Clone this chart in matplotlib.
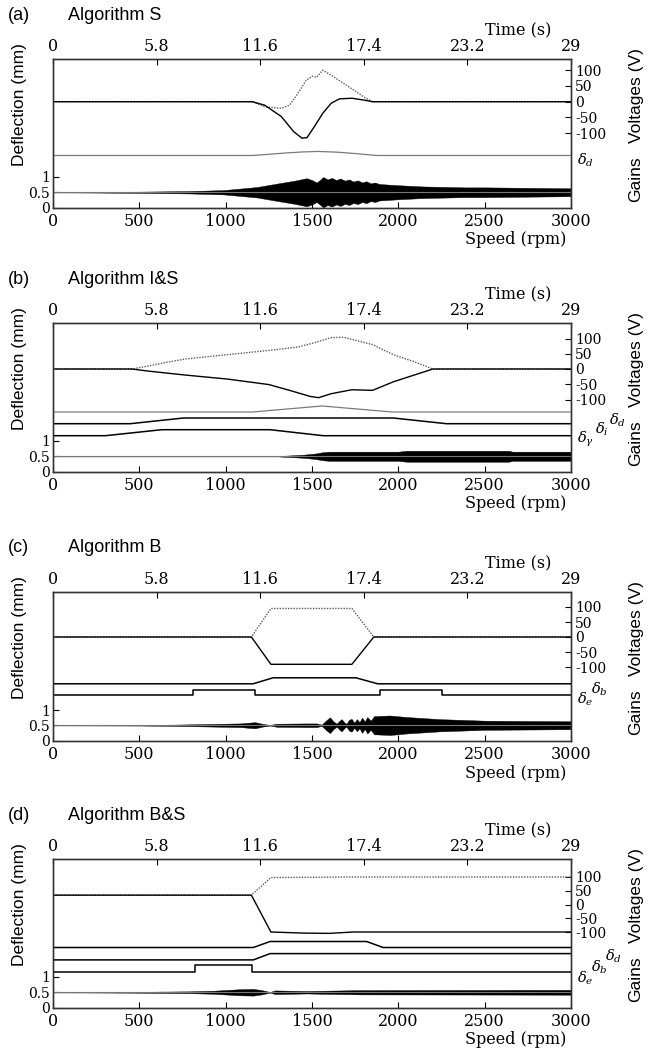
import numpy as np
import matplotlib.pyplot as plt
from matplotlib import transforms

W, H = 651, 1049
SERIF = 'DejaVu Serif'
SANS = 'Liberation Sans'
plt.rcParams['mathtext.fontset'] = 'dejavuserif'

speed_ticks = [0, 500, 1000, 1500, 2000, 2500, 3000]
time_ticks = [0, 5.8, 11.6, 17.4, 23.2, 29]
time_labels = ['0', '5.8', '11.6', '17.4', '23.2', '29']
volt_ticks = [-100, -50, 0, 50, 100]
volt_labels = ['-100', '-50', '0', '50', '100']
gain_ticks = [0, 0.5, 1]
gain_labels = ['0', '0.5', '1']

# (a) Algorithm S
a_vup_rpm = [0, 1154, 1226, 1322, 1370, 1418, 1466, 1502, 1526, 1562, 1611, 1683, 1755, 1803, 1851, 3000]
a_vup = [0, 0, -16, -21, -11, 26, 68, 81, 77, 100, 84, 58, 32, 14, 0, 0]
a_vlo_rpm = [0, 1154, 1226, 1322, 1394, 1442, 1471, 1514, 1562, 1611, 1659, 1731, 1803, 1851, 3000]
a_vlo = [0, 0, -11, -47, -95, -116, -114, -79, -37, -5, 9, 11, 5, 0, 0]
a_dd_rpm = [0, 1154, 1250, 1350, 1450, 1538, 1650, 1750, 1875, 3000]
a_dd = [0, 0, 0.08, 0.17, 0.24, 0.27, 0.22, 0.13, 0, 0]
a_gain_rpm = [0, 235, 505, 794, 987, 1180, 1315, 1400, 1469, 1500, 1527, 1545, 1565, 1590, 1615,
              1640, 1665, 1690, 1715, 1740, 1765, 1790, 1815, 1840, 1865, 1890, 2000, 2144, 2385, 2500, 3000]
a_gain = [0.005, 0.01, 0.02, 0.04, 0.07, 0.17, 0.3, 0.38, 0.46, 0.4, 0.32, 0.4, 0.5, 0.42, 0.47,
          0.4, 0.45, 0.38, 0.42, 0.35, 0.39, 0.32, 0.36, 0.29, 0.32, 0.27, 0.23, 0.19, 0.16, 0.16, 0.13]

# (b) Algorithm I&S
b_vup_rpm = [0, 457, 553, 649, 769, 1010, 1250, 1418, 1514, 1611, 1683, 1851, 1971, 2091, 2200, 3000]
b_vup = [0, 0, 10, 21, 33, 47, 61, 72, 86, 103, 104, 80, 47, 24, 0, 0]
b_vlo_rpm = [0, 457, 553, 769, 1010, 1250, 1370, 1490, 1538, 1611, 1731, 1851, 1971, 2091, 2200, 3000]
b_vlo = [0, 0, -7, -20, -33, -51, -70, -90, -94, -81, -68, -70, -42, -20, 0, 0]
b_dd_rpm = [0, 1154, 1559, 1965, 3000]
b_dd = [0, 0, 0.4, 0, 0]
b_di_rpm = [0, 447, 756, 1970, 2279, 3000]
b_di = [0, 0, 0.38, 0.38, 0, 0]
b_dg_rpm = [0, 303, 630, 1257, 1565, 3000]
b_dg = [0, 0, 0.4, 0.4, 0, 0]
b_gain_rpm = [0, 1300, 1350, 1450, 1520, 1560, 1600, 2000, 2050, 2640, 2660, 3000]
b_gain = [0.005, 0.005, 0.02, 0.05, 0.09, 0.13, 0.15, 0.15, 0.18, 0.18, 0.15, 0.15]

# (c) Algorithm B
c_vup_rpm = [0, 1149, 1262, 1731, 1858, 3000]
c_vup = [0, 0, 95, 95, 0, 0]
c_vlo_rpm = [0, 1149, 1262, 1731, 1858, 3000]
c_vlo = [0, 0, -91, -91, 0, 0]
c_db_rpm = [0, 1159, 1274, 1755, 1880, 3000]
c_db = [0, 0, 0.4, 0.4, 0, 0]
c_de_rpm = [0, 813, 813, 1172, 1172, 1895, 1895, 2254, 2254, 3000]
c_de = [0, 0, 0.33, 0.33, 0, 0, 0.33, 0.33, 0, 0]
c_gain_rpm = [0, 505, 698, 890, 1083, 1170, 1218, 1257, 1296, 1469, 1527, 1556, 1580, 1604, 1625,
              1643, 1660, 1671, 1690, 1700, 1715, 1729, 1745, 1760, 1775, 1790, 1805, 1820, 1840,
              1860, 1874, 1951, 2047, 2240, 2500, 3000]
c_gain = [0.005, 0.01, 0.02, 0.04, 0.06, 0.1, 0.04, 0.01, 0.05, 0.06, 0.06, 0.02, 0.15, 0.26, 0.12,
          0.05, 0.15, 0.2, 0.08, 0.05, 0.18, 0.21, 0.08, 0.2, 0.1, 0.25, 0.12, 0.27, 0.15,
          0.3, 0.3, 0.32, 0.27, 0.2, 0.15, 0.13]

# (d) Algorithm B&S
d_vup_rpm = [0, 1149, 1262, 1500, 1700, 3000]
d_vup = [34, 34, 98, 99, 100, 100]
d_vlo_rpm = [0, 1149, 1262, 1450, 1600, 1740, 3000]
d_vlo = [34, 34, -100, -104, -105, -100, -100]
d_dd_rpm = [0, 1160, 1257, 1816, 1912, 3000]
d_dd = [0, 0, 0.4, 0.4, 0, 0]
d_db_rpm = [0, 1160, 1257, 3000]
d_db = [0, 0, 0.42, 0.42]
d_de_rpm = [0, 823, 823, 1155, 1155, 3000]
d_de = [0, 0, 0.44, 0.44, 0, 0]
d_gain_rpm = [0, 300, 505, 794, 929, 1083, 1160, 1209, 1257, 1286, 1469, 1565, 1778, 3000]
d_gain = [0.005, 0.01, 0.015, 0.03, 0.05, 0.1, 0.11, 0.07, 0.01, 0.06, 0.04, 0.05, 0.07, 0.08]

# layout (pixels)
BOX_L, BOX_W, BOX_H = 53, 518, 148.5
GAIN_PX = 30.5     # px per gain unit
DEFL_PX = 15.0     # px per mm

panels = [
    dict(tag='(a)', title='Algorithm S', top=59, vzero=42.7, vscale=31.5,
         vup=(a_vup_rpm, a_vup), vlo=(a_vlo_rpm, a_vlo), gain=(a_gain_rpm, a_gain),
         defl=[(r'$\delta_d$', a_dd_rpm, a_dd, 52, '#7a7a7a', 577, 47)]),
    dict(tag='(b)', title='Algorithm I&S', top=323, vzero=46, vscale=30.5,
         vup=(b_vup_rpm, b_vup), vlo=(b_vlo_rpm, b_vlo), gain=(b_gain_rpm, b_gain),
         defl=[(r'$\delta_d$', b_dd_rpm, b_dd, 59.5, '#7a7a7a', 609, 51),
               (r'$\delta_i$', b_di_rpm, b_di, 47.8, 'k', 595, 42),
               (r'$\delta_\gamma$', b_dg_rpm, b_dg, 35.8, 'k', 577, 32)]),
    dict(tag='(c)', title='Algorithm B', top=592, vzero=45, vscale=30,
         vup=(c_vup_rpm, c_vup), vlo=(c_vlo_rpm, c_vlo), gain=(c_gain_rpm, c_gain),
         defl=[(r'$\delta_b$', c_db_rpm, c_db, 56.7, 'k', 591, 51),
               (r'$\delta_e$', c_de_rpm, c_de, 45.3, 'k', 577, 41)]),
    dict(tag='(d)', title='Algorithm B&S', top=859, vzero=45.5, vscale=27.5,
         vup=(d_vup_rpm, d_vup), vlo=(d_vlo_rpm, d_vlo), gain=(d_gain_rpm, d_gain),
         defl=[(r'$\delta_d$', d_dd_rpm, d_dd, 60, 'k', 605, 51),
               (r'$\delta_b$', d_db_rpm, d_db, 47.6, 'k', 591, 40),
               (r'$\delta_e$', d_de_rpm, d_de, 36, 'k', 577, 29)]),
]

fig = plt.figure(figsize=(W / 100, H / 100), dpi=100)


def fy(py):
    return 1 - py / H


def style_ticks(a, size=11.5, **kw):
    a.tick_params(direction='in', length=4, width=0.8, labelsize=size, **kw)
    for lab in a.get_xticklabels() + a.get_yticklabels():
        lab.set_family(SERIF)


for p in panels:
    top = p['top']
    ax = fig.add_axes([BOX_L / W, fy(top + BOX_H), BOX_W / W, BOX_H / H])
    ax.set_xlim(0, 3000)
    ax.set_ylim(0, BOX_H / GAIN_PX)
    ax.set_xticks(speed_ticks)
    ax.set_xticklabels([str(s) for s in speed_ticks])
    ax.set_yticks(gain_ticks)
    ax.set_yticklabels(gain_labels)
    style_ticks(ax, top=True, right=True, labelright=False)
    ax.tick_params(axis='x', pad=4)
    ax.tick_params(axis='y', pad=2, labelsize=10)

    # gains band
    g_rpm, g = p['gain']
    g_rpm = np.array(g_rpm)
    g = np.array(g)
    ax.fill_between(g_rpm, 0.5 - g, 0.5 + g, color='k', lw=0.3)
    ax.plot([0, 3000], [0.5, 0.5], color='#777777', lw=0.8)

    # voltages
    axv = ax.twinx()
    vtop = p['vzero'] / p['vscale'] * 100
    vbot = -(BOX_H - p['vzero']) / p['vscale'] * 100
    axv.set_ylim(vbot, vtop)
    axv.set_yticks(volt_ticks)
    axv.set_yticklabels(volt_labels)
    style_ticks(axv, size=10)
    axv.tick_params(axis='y', pad=3)
    axv.plot(*p['vup'], color='#5a5a5a', ls=(0, (1, 1)), lw=1.0)
    axv.plot(*p['vlo'], color='k', lw=1.0)

    # deflections
    axd = ax.twinx()
    axd.set_ylim(0, BOX_H / DEFL_PX)
    axd.axis('off')
    bt = transforms.blended_transform_factory(axd.transAxes, axd.transData)
    for lab, rpm, val, off, col, lx, ly in p['defl']:
        axd.plot(rpm, np.array(val) + off / DEFL_PX, color=col, lw=1.1 if col == 'k' else 0.9)
        axd.text((lx - BOX_L) / BOX_W, ly / DEFL_PX, lab, transform=bt, ha='left', va='center',
                 fontsize=10.5, clip_on=False)

    # time axis
    axt = ax.twiny()
    axt.set_xlim(0, 29)
    axt.set_xticks(time_ticks)
    axt.set_xticklabels(time_labels)
    style_ticks(axt)
    axt.tick_params(axis='x', pad=3)

    for a in (ax, axv, axt):
        for s in a.spines.values():
            s.set_linewidth(0.9)
            s.set_color('#333333')

    fig.text(8 / W, fy(top - 44), p['tag'], family=SANS, fontsize=13, va='center')
    fig.text(68 / W, fy(top - 44), p['title'], family=SANS, fontsize=13, va='center')
    fig.text(518 / W, fy(top - 28), 'Time (s)', family=SERIF, fontsize=11.5, ha='center', va='center')
    fig.text(516 / W, fy(top + 181), 'Speed (rpm)', family=SERIF, fontsize=11.5, ha='center', va='center')
    fig.text(20 / W, fy(top + 46), 'Deflection (mm)', family=SANS, fontsize=12.5, rotation=90,
             ha='center', va='center')
    fig.text(636 / W, fy(top + 37), 'Voltages (V)', family=SANS, fontsize=12.5, rotation=90,
             ha='center', va='center')
    fig.text(636 / W, fy(top + 120), 'Gains', family=SANS, fontsize=12.5, rotation=90,
             ha='center', va='center')

fig.savefig('out.png', dpi=100)
